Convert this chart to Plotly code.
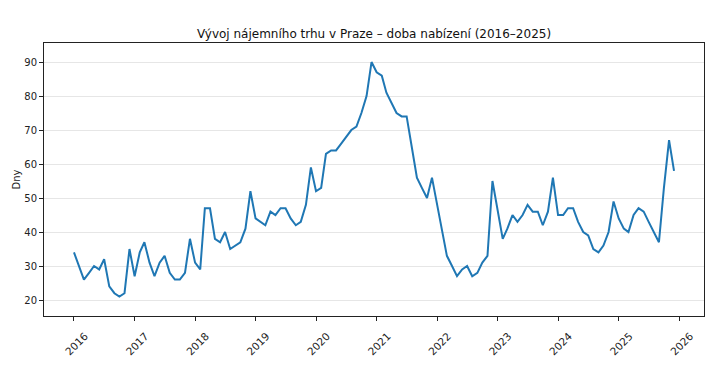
import pandas as pd
import plotly.graph_objects as go

months = pd.date_range("2016-01-01", "2025-12-01", freq="MS")
days_2016 = [34, 30, 26, 28, 30, 29, 32, 24, 22, 21, 22, 35]
days_2017 = [27, 34, 37, 31, 27, 31, 33, 28, 26, 26, 28, 38]
days_2018 = [31, 29, 47, 47, 38, 37, 40, 35, 36, 37, 41, 52]
days_2019 = [44, 43, 42, 46, 45, 47, 47, 44, 42, 43, 48, 59]
days_2020 = [52, 53, 63, 64, 64, 66, 68, 70, 71, 75, 80, 90]
days_2021 = [87, 86, 81, 78, 75, 74, 74, 65, 56, 53, 50, 56]
days_2022 = [48, 40, 33, 30, 27, 29, 30, 27, 28, 31, 33, 55]
days_2023 = [47, 38, 41, 45, 43, 45, 48, 46, 46, 42, 46, 56]
days_2024 = [45, 45, 47, 47, 43, 40, 39, 35, 34, 36, 40, 49]
days_2025 = [44, 41, 40, 45, 47, 46, 43, 40, 37, 53, 67, 58]
values = (days_2016 + days_2017 + days_2018 + days_2019 + days_2020 +
          days_2021 + days_2022 + days_2023 + days_2024 + days_2025)

title = "Vývoj nájemního trhu v Praze – doba nabízení (2016–2025)"
y_label = "Dny"

font = "DejaVu Sans, Arial, sans-serif"

fig = go.Figure()
fig.add_trace(go.Scatter(x=months, y=values, mode="lines",
                         line=dict(color="#1f77b4", width=2),
                         showlegend=False))

fig.update_layout(
    width=715, height=375,
    margin=dict(l=44, r=11, t=43, b=59, autoexpand=False),
    paper_bgcolor="white", plot_bgcolor="white",
    font=dict(family=font, size=9.5, color="#222"),
    title=dict(text=title, x=0.5, xref="paper", xanchor="center",
               y=1, yref="paper", yanchor="bottom", pad=dict(b=5),
               automargin=False,
               font=dict(size=12, color="#111", family=font)),
)
fig.update_xaxes(
    type="date", automargin=False,
    range=["2015-07-04", "2026-05-31"],
    tick0="2016-01-01", dtick="M12", tickformat="%Y",
    tickangle=-45, ticklabelshift=11, ticklabelstandoff=5,
    ticks="outside", ticklen=4, tickcolor="#222", tickwidth=1,
    showline=True, linecolor="#222", linewidth=1, mirror=True,
    showgrid=False, zeroline=False,
    tickfont=dict(size=10.5, color="#222"),
)
fig.update_yaxes(
    automargin=False,
    range=[15.3, 95.6],
    tick0=20, dtick=10,
    ticks="outside", ticklen=4, tickcolor="#222", tickwidth=1,
    showline=True, linecolor="#222", linewidth=1, mirror=True,
    showgrid=True, gridcolor="#e6e6e6", gridwidth=1, zeroline=False,
    tickfont=dict(size=10, color="#222"),
    title=dict(text=y_label, font=dict(size=10, color="#222"), standoff=1),
)

fig.write_html("out.html",
               config={"displayModeBar": False},
               post_script="document.body.style.margin='0';document.body.style.overflow='hidden';")
